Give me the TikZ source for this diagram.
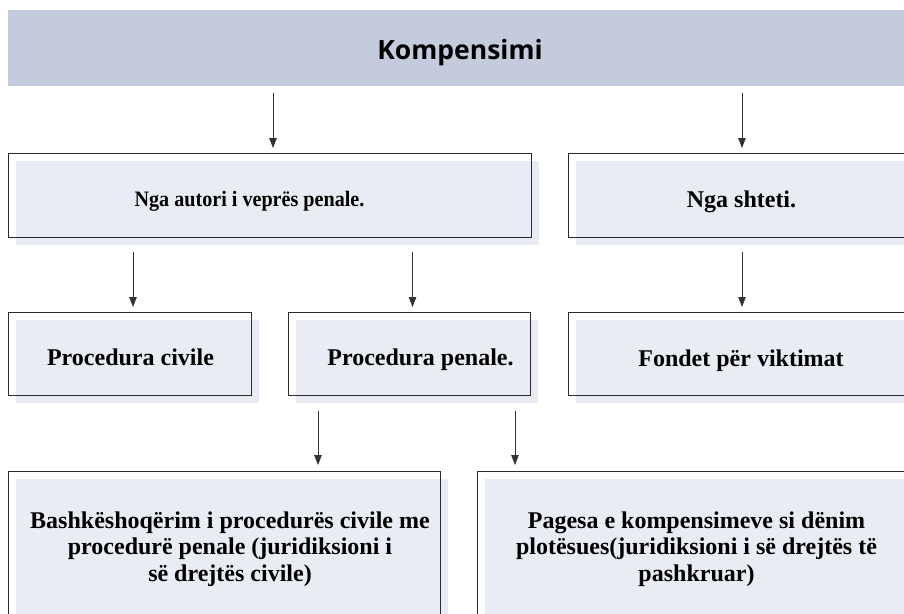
\documentclass[tikz,border=0pt]{standalone}
\usepackage{fontspec}
\setmainfont{Liberation Serif}
\newfontfamily\hdrfont{Open Sans}
\usetikzlibrary{arrows.meta,shadows}
\definecolor{hdrfill}{HTML}{C3CBDD}
\definecolor{boxfill}{HTML}{E9ECF4}
\definecolor{linec}{HTML}{2B2B2B}
\definecolor{arrowc}{HTML}{333333}
\tikzset{
  box/.style={draw=linec, line width=1pt, fill=none, outer sep=0pt, inner sep=0pt,
    general shadow={fill=boxfill, shadow xshift=7.5pt, shadow yshift=-8pt}},
  txt/.style={font=\bfseries\fontsize{24}{26.5}\selectfont, align=center, inner sep=0pt, anchor=base, text=black},
  arr/.style={draw=arrowc, line width=0.9pt, -{Triangle[width=7.5pt,length=10pt]}}
}
\begin{document}
\begin{tikzpicture}[x=1pt,y=-1pt]
\useasboundingbox (0,0) rectangle (904,613);
\clip (0,0) rectangle (904,613);
% header
\node[fill=hdrfill, inner sep=0pt, outer sep=0pt, minimum width=896pt, minimum height=76pt] (hdr) at (456,48) {};
\node[font=\hdrfont\bfseries\fontsize{26.5}{30}\selectfont, anchor=base, inner sep=0pt] (hdrt) at (460,59) {Kompensimi};
% boxes
\node[box, minimum width=523pt, minimum height=84pt] (b1) at (269.5,195) {};
\node[box, minimum width=341pt, minimum height=84pt] (b2) at (738.5,195) {};
\node[box, minimum width=243pt, minimum height=83pt] (b3) at (129.5,353.5) {};
\node[box, minimum width=242pt, minimum height=83pt] (b4) at (409,353.5) {};
\node[box, minimum width=341pt, minimum height=83pt] (b5) at (738.5,353.5) {};
\node[box, minimum width=432pt, minimum height=160pt] (b6) at (224,551) {};
\node[box, minimum width=432pt, minimum height=160pt] (b7) at (693,551) {};
% texts
\node[txt, font=\bfseries\fontsize{22}{25}\selectfont] (t1) at (249.5,206) {\scalebox{0.915}[1]{Nga autori i veprës penale.}};
\node[txt] (t2) at (741.5,207) {Nga shteti.};
\node[txt] (t3) at (130.5,365) {Procedura civile};
\node[txt] (t4) at (420.5,365) {Procedura penale.};
\node[txt] (t5) at (741,366) {Fondet për viktimat};
\node[txt] (t6) at (230,581) {Bashkëshoqërim i procedurës civile me\\procedurë penale (juridiksioni i\\së drejtës civile)};
\node[txt] (t7) at (696.5,581) {Pagesa e kompensimeve si dënim\\plotësues(juridiksioni i së drejtës të\\pashkruar)};
% arrows
\draw[arr, shorten <=7pt, shorten >=5pt] ([xshift=3.5pt]b1.north |- hdr.south) -- ([xshift=3.5pt]b1.north);
\draw[arr, shorten <=7pt, shorten >=5pt] ([xshift=3.5pt]b2.north |- hdr.south) -- ([xshift=3.5pt]b2.north);
\draw[arr, shorten <=15pt, shorten >=5pt] ([xshift=3.5pt]b3.north |- b1.south) -- ([xshift=3.5pt]b3.north);
\draw[arr, shorten <=15pt, shorten >=5pt] ([xshift=3.5pt]b4.north |- b1.south) -- ([xshift=3.5pt]b4.north);
\draw[arr, shorten <=15pt, shorten >=5pt] ([xshift=3.5pt]b5.north |- b2.south) -- ([xshift=3.5pt]b5.north);
\draw[arr, shorten <=16pt, shorten >=6pt] ([xshift=-91pt]b4.south) -- ([xshift=-91pt]b4.south |- b6.north);
\draw[arr, shorten <=16pt, shorten >=6pt] ([xshift=106pt]b4.south) -- ([xshift=106pt]b4.south |- b7.north);
\end{tikzpicture}
\end{document}
